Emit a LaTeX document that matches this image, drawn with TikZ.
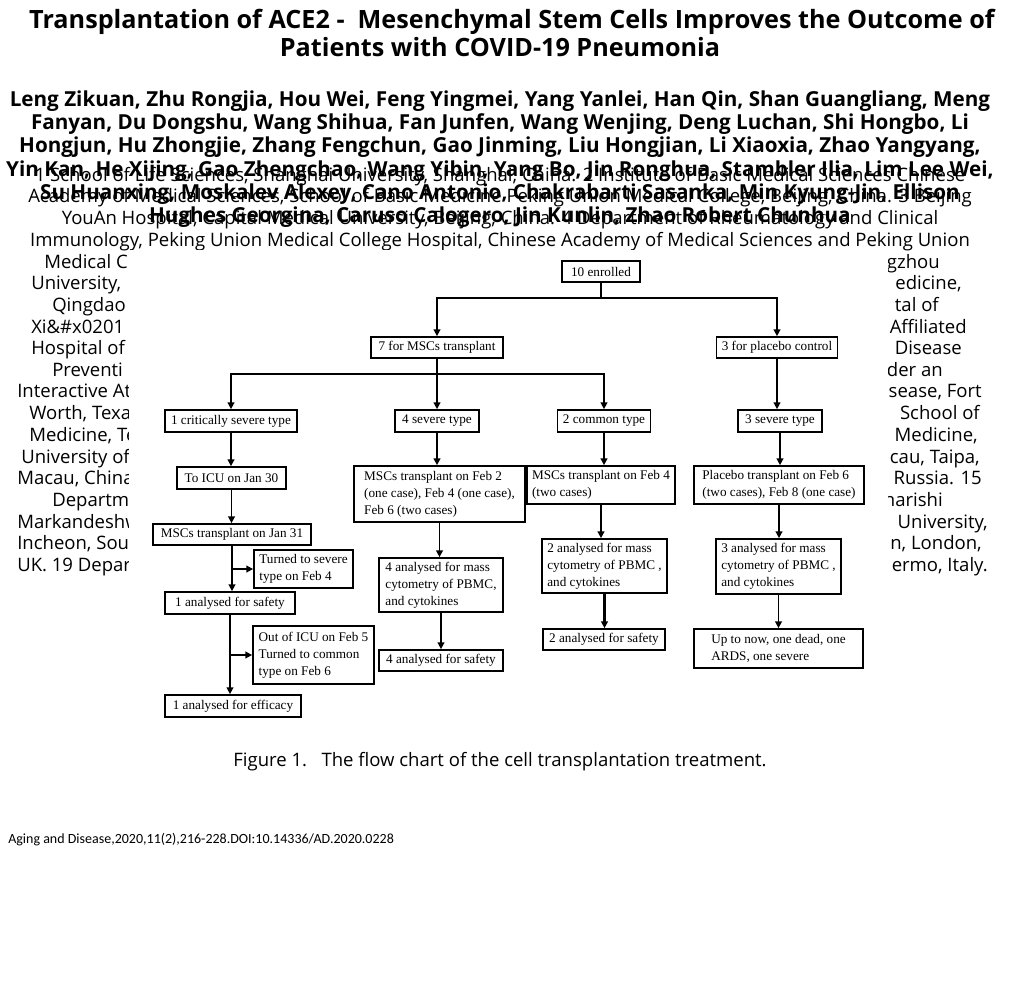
\documentclass[tikz,border=0pt]{standalone}
\usepackage{fontspec}
\setmainfont{Open Sans}
\newfontfamily\chartfont{Liberation Serif}
\newfontfamily\footfont{Carlito}
\usetikzlibrary{arrows.meta}
\newcommand\chartbox[7]{%
  \pgfmathsetmacro\cbw{(#4-#2)*0.75}%
  \pgfmathsetmacro\cbh{(#5-#3)*0.75}%
  \pgfmathsetmacro\cbx{(#4+#2)/2}%
  \pgfmathsetmacro\cby{(#5+#3)/2}%
  \node[box,align=#6,minimum width=\cbw pt,minimum height=\cbh pt] (#1) at (\cbx,\cby) {#7};}
\begin{document}
\begin{tikzpicture}[x=0.75pt,y=-0.75pt,
  ttl/.style={font=\fontsize{18.9}{22}\bfseries, inner sep=0, anchor=base},
  auth/.style={font=\fontsize{15.5}{18}\bfseries, inner sep=0, anchor=base},
  aff/.style={font=\fontsize{13.9}{16}\selectfont, inner sep=0},
  box/.style={draw, line width=1.3pt, fill=white, inner xsep=4pt, inner ysep=0pt,
    font=\chartfont\fontsize{9.9}{12.7}\selectfont},
  ln/.style={line width=1.1pt},
  arr/.style={line width=1.1pt, -{Triangle[length=5pt,width=5pt]}},
  thk/.style={line width=2pt}
]
\useasboundingbox (0,0) rectangle (1024,1000);
\fill[white] (0,0) rectangle (1024,1000);

% title
\node[ttl] (t1) at (512,28) {Transplantation of ACE2 -\ \ Mesenchymal Stem Cells Improves the Outcome of};
\node[ttl] (t2) at (500,56) {Patients with COVID-19 Pneumonia};

% authors
\node[auth] (au1) at (500,106) {Leng Zikuan, Zhu Rongjia, Hou Wei, Feng Yingmei, Yang Yanlei, Han Qin, Shan Guangliang, Meng};
\node[auth] (au2) at (500,129.3) {Fanyan, Du Dongshu, Wang Shihua, Fan Junfen, Wang Wenjing, Deng Luchan, Shi Hongbo, Li};
\node[auth] (au3) at (500,152.6) {Hongjun, Hu Zhongjie, Zhang Fengchun, Gao Jinming, Liu Hongjian, Li Xiaoxia, Zhao Yangyang,};
\node[auth] (au4) at (500,176) {Yin Kan, He Xijing, Gao Zhengchao, Wang Yibin, Yang Bo, Jin Ronghua, Stambler Ilia, Lim Lee Wei,};
\node[auth] (au5) at (500,199.2) {Su Huanxing, Moskalev Alexey, Cano Antonio, Chakrabarti Sasanka, Min Kyung-Jin, Ellison};
\node[auth] (au6) at (500,222.5) {Hughes Georgina, Caruso Calogero, Jin Kunlin, Zhao Robert Chunhua};

% affiliations
\node[aff,anchor=base] (af1) at (500,181) {1 School of Life Sciences, Shanghai University, Shanghai, China. 2 Institute of Basic Medical Sciences Chinese};
\node[aff,anchor=base] (af2) at (500,202.5) {Academy of Medical Sciences, School of Basic Medicine Peking Union Medical College, Beijing, China. 3 Beijing};
\node[aff,anchor=base] (af3) at (500,224) {YouAn Hospital, Capital Medical University, Beijing, China. 4 Department of Rheumatology and Clinical};
\node[aff,anchor=base] (af4) at (500,246) {Immunology, Peking Union Medical College Hospital, Chinese Academy of Medical Sciences and Peking Union};
\node[aff,anchor=base west] (l5) at (44,268) {Medical C};
\node[aff,anchor=base east] (r5) at (940,268) {gzhou};
\node[aff,anchor=base west] (l6) at (31,289) {University,};
\node[aff,anchor=base east] (r6) at (962,289) {edicine,};
\node[aff,anchor=base west] (l7) at (52,311) {Qingdao};
\node[aff,anchor=base east] (r7) at (939,311) {tal of};
\node[aff,anchor=base west] (l8) at (31,333) {Xi\&\#x0201};
\node[aff,anchor=base east] (r8) at (967,333) {Affiliated};
\node[aff,anchor=base west] (l9) at (31,354) {Hospital of};
\node[aff,anchor=base east] (r9) at (962,354) {Disease};
\node[aff,anchor=base west] (l10) at (52,376) {Preventi};
\node[aff,anchor=base east] (r10) at (943,376) {der an};
\node[aff,anchor=base west] (l11) at (17,397) {Interactive At};
\node[aff,anchor=base east] (r11) at (982,397) {sease, Fort};
\node[aff,anchor=base west] (l12) at (29,419) {Worth, Texas};
\node[aff,anchor=base east] (r12) at (980,419) {School of};
\node[aff,anchor=base west] (l13) at (29,441) {Medicine, Te};
\node[aff,anchor=base east] (r13) at (978,441) {Medicine,};
\node[aff,anchor=base west] (l14) at (21,463) {University of};
\node[aff,anchor=base east] (r14) at (980,463) {cau, Taipa,};
\node[aff,anchor=base west] (l15) at (17,484) {Macau, China};
\node[aff,anchor=base east] (r15) at (982,484) {Russia. 15};
\node[aff,anchor=base west] (l16) at (52,506) {Departme};
\node[aff,anchor=base east] (r16) at (943,506) {harishi};
\node[aff,anchor=base west] (l17) at (17,528) {Markandeshw};
\node[aff,anchor=base east] (r17) at (988,528) {University,};
\node[aff,anchor=base west] (l18) at (17,549) {Incheon, Sou};
\node[aff,anchor=base east] (r18) at (982,549) {n, London,};
\node[aff,anchor=base west] (l19) at (17,571) {UK. 19 Depart};
\node[aff,anchor=base east] (r19) at (988,571) {ermo, Italy.};

% figure area (white image)
\fill[white] (129,250) rectangle (888,745);

% chart boxes
\chartbox{e10}{562}{261}{640}{282}{center}{10 enrolled}
\chartbox{m7}{371}{337}{503}{358}{center}{7 for MSCs transplant}
\chartbox{p3}{720}{337}{834}{358}{center}{3 for placebo control}
\chartbox{c1}{165}{410}{297}{432}{center}{1 critically severe type}
\chartbox{s4}{395}{410}{479}{432}{center}{4 severe type}
\chartbox{c2}{558}{410}{650}{432}{center}{2 common type}
\chartbox{s3}{738}{410}{822}{432}{center}{3 severe type}
\chartbox{icu}{177}{467}{286}{489}{center}{To ICU on Jan 30}
\chartbox{f2}{354}{466}{525}{522}{left}{MSCs transplant on Feb 2\\(one case), Feb 4 (one case),\\Feb 6 (two cases)}
\chartbox{f4}{527}{466}{675}{504}{left}{MSCs transplant on Feb 4\\(two cases)}
\chartbox{pl}{694}{466}{864}{504}{left}{Placebo transplant on Feb 6\\(two cases), Feb 8 (one case)}
\chartbox{j31}{153}{524}{311}{545}{center}{MSCs transplant on Jan 31}
\chartbox{ts}{254}{550}{353}{588}{left}{Turned to severe\\type on Feb 4}
\chartbox{a4}{379}{558}{503}{612}{left}{4 analysed for mass\\cytometry of PBMC,\\and cytokines}
\chartbox{a2}{543}{539}{666}{593}{left}{2 analysed for mass\\cytometry of PBMC ,\\and cytokines}
\chartbox{a3}{717}{539}{840}{594}{left}{3 analysed for mass\\cytometry of PBMC ,\\and cytokines}
\chartbox{sf1}{165}{592}{295}{614}{center}{1 analysed for safety}
\chartbox{sf2}{543}{629}{665}{650}{center}{2 analysed for safety}
\chartbox{oi}{253}{626}{374}{684}{left}{Out of ICU on Feb 5\\Turned to common\\type on Feb 6}
\chartbox{up}{694}{629}{863}{668}{left}{Up to now, one dead, one\\ARDS, one severe}
\chartbox{sf4}{379}{650}{503}{671}{center}{4 analysed for safety}
\chartbox{ef1}{165}{695}{301}{717}{center}{1 analysed for efficacy}

% connectors
\coordinate (j1) at (601,298);
\draw[ln] (e10.south) -- (j1);
\draw[arr] (j1) -| (m7.north);
\draw[arr] (j1) -| (p3.north);
\coordinate (j2) at (437,374);
\draw[ln] (m7.south) -- (j2);
\draw[arr] (j2) -| (c1.north);
\draw[arr] (j2) -- (s4.north);
\draw[arr] (j2) -| (c2.north);

\draw[arr] (c1.south) -- (c1.south |- icu.north);
\draw[arr] (icu.south) -- (icu.south |- j31.north);
\draw[arr] (j31.south) -- (j31.south |- sf1.north);
\coordinate (b1) at (j31.south |- ts.west);
\draw[arr] (b1) -- (ts.west);
\draw[arr] (sf1.south) -- (sf1.south |- ef1.north);
\coordinate (b2) at (sf1.south |- oi.west);
\draw[arr] (b2) -- (oi.west);

\draw[arr,thk] (s4.south) -- (s4.south |- f2.north);
\draw[arr] (f2.south) -- (f2.south |- a4.north);
\draw[arr] (a4.south) -- (a4.south |- sf4.north);

\draw[arr,thk] (c2.south) -- (c2.south |- f4.north);
\draw[arr,thk] (f4.south) -- (f4.south |- a2.north);
\draw[arr,thk] (a2.south) -- (a2.south |- sf2.north);

\draw[arr] (p3.south) -- (p3.south |- s3.north);
\draw[arr] (s3.south) -- (s3.south |- pl.north);
\draw[arr] (pl.south) -- (pl.south |- a3.north);
\draw[arr] (a3.south) -- (a3.south |- up.north);

% caption and footer
\node[aff,anchor=base] (cap) at (500,766) {Figure 1.\ \ \ The flow chart of the cell transplantation treatment.};
\node[font=\footfont\fontsize{10.5}{12}\selectfont, inner sep=0, anchor=base west] (foot) at (8,843) {Aging and Disease,2020,11(2),216-228.DOI:10.14336/AD.2020.0228};
\end{tikzpicture}
\end{document}
